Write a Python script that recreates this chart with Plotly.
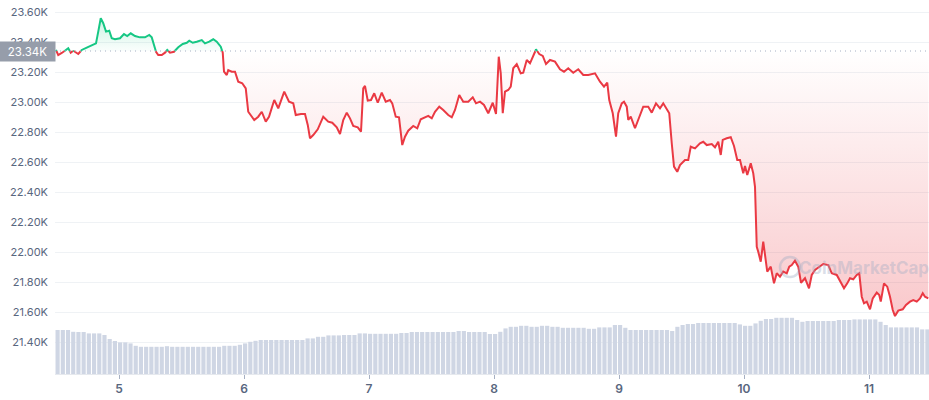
import numpy as np
import plotly.graph_objects as go

# ---------------- data ----------------
BASELINE = 23340  # reference (opening) price shown as dotted line

times = [4.496, 4.514, 4.542, 4.568, 4.594, 4.614, 4.634, 4.662, 4.674, 4.702,
         4.742, 4.782, 4.816, 4.834, 4.854, 4.874, 4.896, 4.922, 4.942, 4.968,
         5.008, 5.040, 5.066, 5.094, 5.128, 5.168, 5.208, 5.242, 5.262, 5.280,
         5.296, 5.314, 5.342, 5.368, 5.386, 5.408, 5.440, 5.474, 5.510, 5.542,
         5.562, 5.590, 5.622, 5.662, 5.688, 5.722, 5.754, 5.782, 5.814, 5.830,
         5.840, 5.862, 5.874, 5.902, 5.928, 5.954, 5.986, 6.014, 6.034, 6.056,
         6.082, 6.114, 6.142, 6.174, 6.200, 6.242, 6.274, 6.322, 6.360, 6.394,
         6.414, 6.456, 6.488, 6.510, 6.528, 6.554, 6.590, 6.634, 6.674, 6.706,
         6.742, 6.768, 6.794, 6.822, 6.848, 6.874, 6.910, 6.936, 6.954, 6.968,
         6.990, 7.016, 7.042, 7.070, 7.102, 7.134, 7.168, 7.186, 7.214, 7.240,
         7.266, 7.288, 7.314, 7.354, 7.386, 7.414, 7.474, 7.502, 7.528, 7.562,
         7.594, 7.634, 7.662, 7.688, 7.722, 7.754, 7.794, 7.830, 7.856, 7.888,
         7.920, 7.954, 7.990, 8.016, 8.038, 8.054, 8.070, 8.088, 8.114, 8.134,
         8.154, 8.182, 8.214, 8.234, 8.262, 8.288, 8.314, 8.336, 8.362, 8.390,
         8.416, 8.448, 8.488, 8.528, 8.560, 8.594, 8.634, 8.674, 8.714, 8.754,
         8.808, 8.848, 8.880, 8.906, 8.922, 8.950, 8.976, 8.994, 9.022, 9.040,
         9.062, 9.074, 9.094, 9.128, 9.154, 9.194, 9.234, 9.262, 9.296, 9.328,
         9.354, 9.382, 9.402, 9.422, 9.440, 9.466, 9.488, 9.528, 9.554, 9.574,
         9.608, 9.648, 9.674, 9.702, 9.742, 9.768, 9.794, 9.814, 9.830, 9.862,
         9.894, 9.920, 9.946, 9.968, 9.994, 10.008, 10.026, 10.054, 10.074, 10.088,
         10.102, 10.114, 10.134, 10.154, 10.168, 10.186, 10.214, 10.240, 10.262, 10.288,
         10.314, 10.342, 10.362, 10.382, 10.408, 10.434, 10.456, 10.488, 10.520, 10.542,
         10.568, 10.608, 10.634, 10.674, 10.702, 10.742, 10.768, 10.800, 10.826, 10.848,
         10.874, 10.902, 10.922, 10.942, 10.960, 10.982, 11.008, 11.030, 11.062, 11.082,
         11.094, 11.120, 11.146, 11.168, 11.190, 11.208, 11.234, 11.270, 11.296, 11.328,
         11.354, 11.382, 11.408, 11.430, 11.448, 11.474]

prices = [23347, 23313, 23327, 23342, 23358, 23329, 23342, 23329, 23320, 23347,
          23362, 23375, 23391, 23469, 23558, 23525, 23469, 23475, 23425, 23418,
          23425, 23453, 23440, 23458, 23440, 23431, 23431, 23447, 23431, 23380,
          23335, 23313, 23313, 23329, 23347, 23329, 23335, 23365, 23387, 23395,
          23409, 23395, 23402, 23413, 23391, 23402, 23418, 23402, 23369, 23329,
          23202, 23180, 23213, 23202, 23202, 23135, 23125, 23091, 22935, 22913,
          22880, 22902, 22935, 22869, 22902, 23013, 22958, 23069, 23002, 22991,
          22913, 22920, 22920, 22847, 22758, 22780, 22818, 22902, 22869, 22862,
          22831, 22787, 22880, 22929, 22891, 22840, 22831, 22802, 23091, 23107,
          23009, 23013, 23058, 22995, 23062, 23002, 23013, 22991, 22902, 22898,
          22713, 22769, 22809, 22840, 22825, 22885, 22907, 22891, 22935, 22969,
          22947, 22913, 22898, 22947, 23047, 23002, 23002, 23031, 22991, 23002,
          22980, 22925, 22995, 22920, 23302, 23191, 22925, 23069, 23080, 23102,
          23225, 23253, 23191, 23195, 23280, 23258, 23302, 23351, 23320, 23307,
          23253, 23280, 23269, 23218, 23202, 23225, 23195, 23218, 23180, 23180,
          23191, 23135, 23102, 23129, 23013, 22925, 22769, 22925, 22991, 23002,
          22969, 22880, 22902, 22825, 22885, 22969, 22969, 22929, 22991, 22958,
          22991, 22947, 22925, 22725, 22569, 22535, 22580, 22613, 22613, 22702,
          22691, 22725, 22735, 22713, 22720, 22698, 22735, 22647, 22747, 22758,
          22765, 22707, 22613, 22613, 22525, 22573, 22513, 22591, 22525, 22435,
          22035, 22002, 21935, 22069, 21991, 21869, 21902, 21791, 21858, 21835,
          21869, 21858, 21902, 21913, 21942, 21902, 21795, 21825, 21758, 21847,
          21880, 21902, 21920, 21913, 21858, 21847, 21802, 21758, 21791, 21825,
          21818, 21847, 21858, 21702, 21658, 21669, 21618, 21691, 21729, 21713,
          21669, 21791, 21769, 21702, 21613, 21573, 21609, 21618, 21647, 21669,
          21680, 21669, 21691, 21725, 21702, 21691]

# hourly 24h-volume bars (billions, arbitrary scale)
volume = [22.0, 22.0, 22.0, 21.1, 21.0, 21.0, 20.3, 20.3, 20.3, 19.5,
          17.5, 16.5, 15.8, 15.8, 15.3, 14.1, 13.6, 13.6, 13.6, 13.6,
          13.6, 13.9, 13.6, 13.6, 13.6, 13.6, 13.6, 13.6, 13.6, 13.6,
          13.6, 13.6, 14.1, 14.1, 14.1, 14.6, 15.3, 16.1, 16.6, 17.0,
          17.0, 17.0, 17.0, 17.0, 17.0, 17.0, 17.0, 17.0, 17.8, 17.8,
          18.6, 18.6, 19.3, 19.3, 19.3, 19.5, 19.5, 19.5, 20.3, 20.3,
          20.1, 20.1, 20.1, 20.1, 20.1, 20.1, 20.5, 20.5, 21.0, 21.0,
          21.0, 21.0, 21.0, 21.0, 21.0, 21.0, 21.0, 21.5, 21.5, 21.0,
          21.0, 21.0, 21.0, 20.0, 20.0, 21.1, 22.8, 23.6, 23.6, 24.1,
          24.1, 23.6, 23.6, 24.1, 24.1, 23.6, 23.6, 23.1, 23.1, 23.1,
          23.1, 23.1, 22.6, 22.6, 23.3, 23.3, 23.3, 24.5, 24.5, 23.1,
          22.0, 22.0, 22.0, 22.0, 22.0, 22.0, 22.0, 22.0, 21.5, 23.6,
          24.5, 25.0, 25.0, 25.5, 25.5, 25.5, 25.5, 25.5, 25.5, 25.5,
          25.5, 24.8, 24.1, 24.1, 25.3, 26.6, 27.5, 27.5, 28.1, 28.1,
          28.1, 28.1, 27.0, 26.1, 26.5, 26.5, 26.5, 26.5, 26.5, 26.5,
          27.0, 27.0, 27.0, 27.3, 27.3, 27.3, 27.3, 27.3, 26.1, 24.5,
          23.3, 23.3, 23.3, 23.3, 23.3, 23.3, 22.3, 22.3]
VOL_START = 4.488      # first hour of the window (day of month)
VOL_STEP = 1.0 / 24.0  # one bar per hour

x_ticks = [5, 6, 7, 8, 9, 10, 11]
x_tick_labels = ["5", "6", "7", "8", "9", "10", "11"]
y_ticks = [21400, 21600, 21800, 22000, 22200, 22400, 22600, 22800, 23000, 23200, 23400, 23600]
y_tick_labels = ["21.40K", "21.60K", "21.80K", "22.00K", "22.20K", "22.40K",
                 "22.60K", "22.80K", "23.00K", "23.20K", "23.40K", "23.60K"]
baseline_label = "23.34K"

# ---------------- styling ----------------
RED = "#ea3943"
GREEN = "#16c784"
GRID = "#eff2f5"
TXT = "#58667e"
FONT = "Inter"

# insert baseline crossing points so colours switch exactly at the baseline
t = np.array(times, dtype=float)
p = np.array(prices, dtype=float)
xs, ys = [t[0]], [p[0]]
for i in range(1, len(t)):
    a, b = p[i - 1] - BASELINE, p[i] - BASELINE
    if a * b < 0:
        f = a / (a - b)
        xs.append(t[i - 1] + f * (t[i] - t[i - 1]))
        ys.append(BASELINE)
    xs.append(t[i])
    ys.append(p[i])
xs = np.array(xs)
ys = np.array(ys)
red_y = np.where(ys <= BASELINE, ys, np.nan)
green_y = np.where(ys >= BASELINE, ys, np.nan)
base_y = np.full_like(ys, BASELINE)

vol_x = [VOL_START + (i + 0.5) * VOL_STEP for i in range(len(volume))]

fig = go.Figure()

# volume bars (secondary axis)
fig.add_trace(go.Bar(x=vol_x, y=volume, yaxis="y2", marker_color="#cfd6e4",
                     marker_line_width=0, hoverinfo="skip", showlegend=False))

# red area between baseline and price (below baseline)
fig.add_trace(go.Scatter(x=xs, y=base_y, mode="lines", line=dict(width=0),
                         hoverinfo="skip", showlegend=False))
fig.add_trace(go.Scatter(x=xs, y=np.minimum(ys, BASELINE), mode="lines",
                         line=dict(width=0), fill="tonexty",
                         fillgradient=dict(type="vertical",
                                           colorscale=[[0, "rgba(234,57,67,0.32)"],
                                                       [1, "rgba(234,57,67,0)"]],
                                           start=21300, stop=BASELINE),
                         hoverinfo="skip", showlegend=False))
# green area between baseline and price (above baseline)
fig.add_trace(go.Scatter(x=xs, y=base_y, mode="lines", line=dict(width=0),
                         hoverinfo="skip", showlegend=False))
fig.add_trace(go.Scatter(x=xs, y=np.maximum(ys, BASELINE), mode="lines",
                         line=dict(width=0), fill="tonexty",
                         fillgradient=dict(type="vertical",
                                           colorscale=[[0, "rgba(22,199,132,0.02)"],
                                                       [1, "rgba(22,199,132,0.22)"]],
                                           start=BASELINE, stop=23560),
                         hoverinfo="skip", showlegend=False))

# price line
fig.add_trace(go.Scatter(x=xs, y=red_y, mode="lines", line=dict(color=RED, width=2),
                         showlegend=False))
fig.add_trace(go.Scatter(x=xs, y=green_y, mode="lines", line=dict(color=GREEN, width=2),
                         showlegend=False))

# dotted baseline
fig.add_shape(type="line", xref="paper", x0=0, x1=1, yref="y", y0=BASELINE, y1=BASELINE,
              line=dict(color="#a6b0c3", width=1, dash="1px,4px"), layer="above")

# baseline label
fig.add_annotation(xref="paper", x=0, xanchor="right", yref="y", y=BASELINE,
                   yanchor="middle", text=baseline_label, showarrow=False,
                   font=dict(family=FONT, size=11.5, color="white"),
                   bgcolor="#969daa", width=51, height=15, borderpad=2, xshift=1)

# watermark
fig.add_shape(type="circle", xref="x", yref="y", x0=10.288, x1=10.448, y0=21833, y1=21966,
              line=dict(color="rgba(160,172,195,0.4)", width=2.5), layer="above")
fig.add_annotation(xref="x", x=10.96, yref="y", y=21893, text="CoinMarketCap",
                   showarrow=False, font=dict(family=FONT, size=17, weight=700,
                                              color="rgba(160,172,195,0.4)"))

fig.update_layout(
    width=929, height=400,
    margin=dict(l=55, r=0, t=0, b=26, autoexpand=False),
    paper_bgcolor="white", plot_bgcolor="white",
    bargap=0.2,
    font=dict(family=FONT, color=TXT),
    xaxis=dict(range=[4.488, 11.48], tickvals=x_ticks, ticktext=x_tick_labels,
               showgrid=False, zeroline=False, ticks="outside", ticklen=4,
               tickcolor="#a6b0c3", showline=True, linecolor="#e6e9ee",
               automargin=False,
               tickfont=dict(family=FONT, size=12, color=TXT, weight=600)),
    yaxis=dict(range=[21186.7, 23680], tickvals=y_ticks, ticktext=y_tick_labels,
               showgrid=True, gridcolor=GRID, gridwidth=1, zeroline=False,
               ticks="", ticklabelstandoff=6, automargin=False,
               tickfont=dict(family=FONT, size=11, color=TXT)),
    yaxis2=dict(range=[0, 187], overlaying="y", visible=False, showgrid=False),
)

fig.write_html("out.html", config={"displayModeBar": False},
               post_script="document.body.style.margin='0';document.body.style.overflow='hidden';")
